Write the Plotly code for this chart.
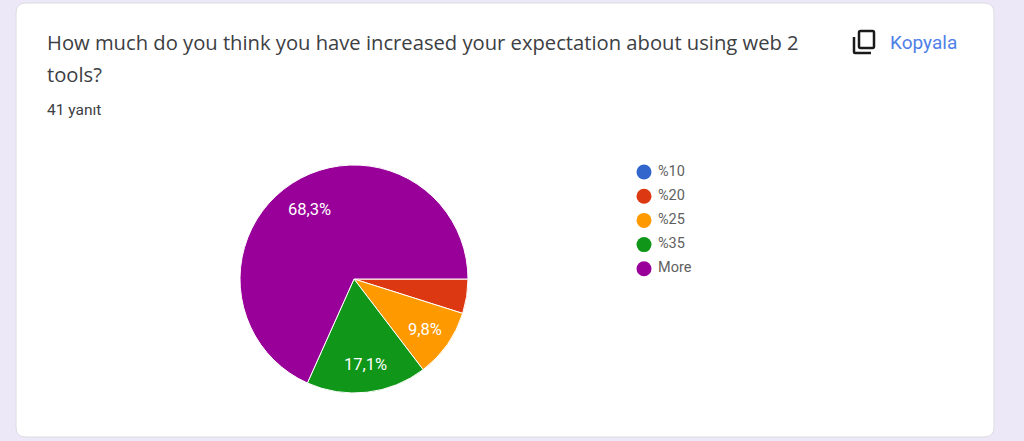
"""Google Forms response card: pie chart of 41 answers, drawn on a pixel canvas."""
import math

import plotly.graph_objects as go

WIDTH = 1024
HEIGHT = 441

QUESTION_LINES = [
    "How much do you think you have increased your expectation about using web 2",
    "tools?",
]
ANSWER_COUNT = "41 yanıt"
COPY_LABEL = "Kopyala"

CATEGORIES = ["%10", "%20", "%25", "%35", "More"]
RESPONSES = [0, 2, 4, 7, 28]
COLORS = ["#3366cc", "#dc3912", "#ff9900", "#109618", "#990099"]

# pie geometry in pixels
CX, CY, R = 354, 279, 114
TEXT_FONT = "Roboto"


def rounded_rect(x0, y0, x1, y1, r):
    return (
        f"M {x0 + r} {y0} L {x1 - r} {y0} Q {x1} {y0} {x1} {y0 + r} "
        f"L {x1} {y1 - r} Q {x1} {y1} {x1 - r} {y1} "
        f"L {x0 + r} {y1} Q {x0} {y1} {x0} {y1 - r} "
        f"L {x0} {y0 + r} Q {x0} {y0} {x0 + r} {y0} Z"
    )


total = sum(RESPONSES)

fig = go.Figure()

fig.add_trace(
    go.Pie(
        labels=CATEGORIES,
        values=RESPONSES,
        sort=False,
        direction="clockwise",
        rotation=90,
        marker=dict(colors=COLORS, line=dict(color="white", width=1)),
        textinfo="none",
        domain=dict(
            x=[(CX - R) / WIDTH, (CX + R) / WIDTH],
            y=[1 - (CY + R) / HEIGHT, 1 - (CY - R) / HEIGHT],
        ),
        showlegend=False,
    )
)

# legend drawn as points so the round swatches keep their tight spacing
fig.add_trace(
    go.Scatter(
        x=[644] * len(CATEGORIES),
        y=[172 + 24.2 * i for i in range(len(CATEGORIES))],
        mode="markers+text",
        marker=dict(size=15, color=COLORS),
        text=["\u00a0" + c for c in CATEGORIES],
        textposition="middle right",
        textfont=dict(family=TEXT_FONT, size=14.5, color="#5f5f5f"),
        showlegend=False,
        hoverinfo="skip",
        cliponaxis=False,
    )
)

annotations = [
    dict(x=45, y=42, text=QUESTION_LINES[0], xanchor="left", yanchor="middle",
         font=dict(family="Open Sans", size=20.2, color="#3c4043")),
    dict(x=45, y=74, text=QUESTION_LINES[1], xanchor="left", yanchor="middle",
         font=dict(family="Open Sans", size=20.2, color="#3c4043")),
    dict(x=45, y=110, text=ANSWER_COUNT, xanchor="left", yanchor="middle",
         font=dict(family=TEXT_FONT, size=15.5, color="#3c4043")),
    dict(x=888, y=42, text=COPY_LABEL, xanchor="left", yanchor="middle",
         font=dict(family=TEXT_FONT, size=19, color="#4f7fe8")),
]

# percent labels on the slices, big enough ones only
cumulative = 0
for value in RESPONSES:
    share = value / total
    if share >= 0.05:
        angle = 2 * math.pi * (cumulative + share / 2)
        annotations.append(
            dict(
                x=CX + 1.5 + 0.74 * R * math.cos(angle),
                y=CY + 1.5 + 0.74 * R * math.sin(angle),
                text=f"{share * 100:.1f}%".replace(".", ","),
                font=dict(family=TEXT_FONT, size=16.5, color="white"),
            )
        )
    cumulative += share

for a in annotations:
    a.update(xref="x", yref="y", showarrow=False)

shapes = [
    # card
    dict(type="path", path=rounded_rect(16, 3, 994, 437, 10), xref="x", yref="y",
         fillcolor="white", line=dict(color="#dcdce2", width=1), layer="below"),
    # copy icon
    dict(type="path", path=rounded_rect(859, 31, 874, 48, 1.5), xref="x", yref="y",
         line=dict(color="#1a1a1a", width=2.5), layer="below"),
    dict(type="path", path="M 854 37 L 854 52 Q 854 53 855 53 L 871 53", xref="x", yref="y",
         line=dict(color="#1a1a1a", width=2.5), layer="below"),
]

fig.update_layout(
    width=WIDTH,
    height=HEIGHT,
    margin=dict(l=0, r=0, t=0, b=0),
    paper_bgcolor="#ece8f7",
    plot_bgcolor="rgba(0,0,0,0)",
    xaxis=dict(range=[0, WIDTH], visible=False, fixedrange=True),
    yaxis=dict(range=[HEIGHT, 0], visible=False, fixedrange=True),
    shapes=shapes,
    annotations=annotations,
)

fig.write_html(
    "out.html",
    config={"displayModeBar": False},
    post_script="document.body.style.margin = '0'; document.body.style.overflow = 'hidden';",
)
